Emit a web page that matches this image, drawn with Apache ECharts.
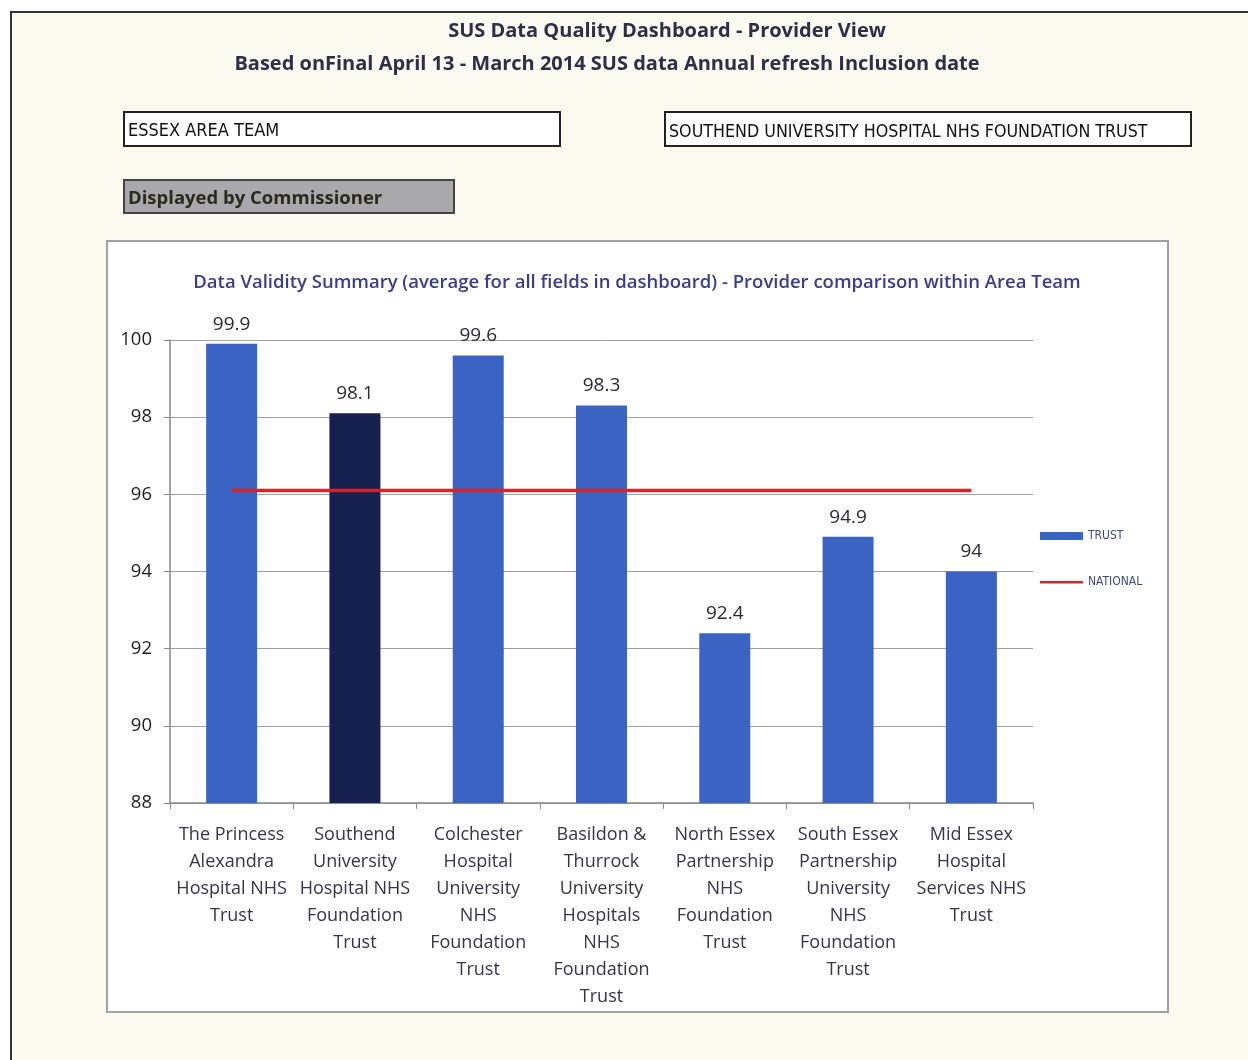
<!DOCTYPE html>
<html>
<head>
<meta charset="utf-8">
<script src="https://cdn.jsdelivr.net/npm/echarts@6/dist/echarts.min.js"></script>
<style>
    html, body { margin: 0; padding: 0; background: #ffffff; }
    #main { width: 1248px; height: 1060px; }
</style>
</head>
<body>
<div id="main"></div>
<script>
let categories = [
    "The Princess\nAlexandra\nHospital NHS\nTrust",
    "Southend\nUniversity\nHospital NHS\nFoundation\nTrust",
    "Colchester\nHospital\nUniversity\nNHS\nFoundation\nTrust",
    "Basildon &\nThurrock\nUniversity\nHospitals\nNHS\nFoundation\nTrust",
    "North Essex\nPartnership\nNHS\nFoundation\nTrust",
    "South Essex\nPartnership\nUniversity\nNHS\nFoundation\nTrust",
    "Mid Essex\nHospital\nServices NHS\nTrust"
];
let trust = [99.9, 98.1, 99.6, 98.3, 92.4, 94.9, 94.0];
let national = [96.1, 96.1, 96.1, 96.1, 96.1, 96.1, 96.1];
let selectedIndex = 1;
let yTicks = [88, 90, 92, 94, 96, 98, 100];

let labelColor = "#3a3346";
let sans = "'Open Sans', 'Noto Sans', sans-serif";
let narrow = "'Liberation Sans Narrow', 'DejaVu Sans Condensed', 'Liberation Sans', sans-serif";

let chart = echarts.init(document.getElementById("main"));
let option = {
    backgroundColor: "#ffffff",
    animation: false,
    graphic: [
        // outer dashboard frame
        {
            type: "rect",
            shape: {x: 11, y: 12, width: 1250, height: 1060},
            style: {fill: "#fafaf1", stroke: "#333333", lineWidth: 2},
            z: -10
        },
        {
            type: "text",
            style: {
                x: 667, y: 31, text: "SUS Data Quality Dashboard - Provider View",
                font: "bold 20px " + sans, fill: "#2e2e48", align: "center", verticalAlign: "middle"
            }
        },
        {
            type: "text",
            style: {
                x: 607, y: 64, text: "Based onFinal April 13 - March 2014 SUS data Annual refresh Inclusion date",
                font: "bold 20px " + sans, fill: "#2e2e48", align: "center", verticalAlign: "middle"
            }
        },
        {
            type: "rect",
            shape: {x: 124, y: 112, width: 436, height: 34},
            style: {fill: "#ffffff", stroke: "#222222", lineWidth: 2}
        },
        {
            type: "text",
            style: {
                x: 128, y: 131, text: "ESSEX AREA TEAM",
                font: "18px " + narrow, fill: "#111111", verticalAlign: "middle"
            }
        },
        {
            type: "rect",
            shape: {x: 665, y: 112, width: 526, height: 34},
            style: {fill: "#ffffff", stroke: "#222222", lineWidth: 2}
        },
        {
            type: "text",
            style: {
                x: 669, y: 132, text: "SOUTHEND UNIVERSITY HOSPITAL NHS FOUNDATION TRUST",
                font: "17.7px " + narrow, fill: "#111111", verticalAlign: "middle"
            }
        },
        {
            type: "rect",
            shape: {x: 124, y: 180, width: 330, height: 33},
            style: {fill: "#a9a9ab", stroke: "#444444", lineWidth: 2}
        },
        {
            type: "text",
            style: {
                x: 128, y: 199, text: "Displayed by Commissioner",
                font: "bold 18.5px " + sans, fill: "#2b2a1e", verticalAlign: "middle"
            }
        },
        // chart panel
        {
            type: "rect",
            shape: {x: 107, y: 241, width: 1061, height: 771},
            style: {fill: "#ffffff", stroke: "#a0a0a0", lineWidth: 2},
            z: -5
        }
    ],
    title: {
        text: "Data Validity Summary (average for all fields in dashboard) - Provider comparison within Area Team",
        left: 632,
        top: 268,
        textAlign: "center",
        textStyle: {
            fontFamily: sans,
            fontSize: 18.5,
            fontWeight: 600,
            color: "#3b3d8c"
        }
    },
    legend: {
        orient: "vertical",
        left: 1035,
        top: 525,
        itemWidth: 43,
        itemHeight: 8,
        itemGap: 34,
        textStyle: {
            fontFamily: narrow,
            fontSize: 12,
            color: "#3c4a8a"
        },
        data: [
            {name: "TRUST", icon: "rect"},
            {name: "NATIONAL", icon: "path://M0,0 M0,3 L43,3 L43,5.5 L0,5.5 Z M43,8"}
        ]
    },
    grid: {
        left: 170,
        right: 215,
        top: 340,
        bottom: 257
    },
    xAxis: {
        type: "category",
        data: categories,
        axisLine: {lineStyle: {color: "#888888", width: 1.5}},
        axisTick: {show: true, length: 6, lineStyle: {color: "#888888"}},
        axisLabel: {
            interval: 0,
            margin: 18,
            fontFamily: sans,
            fontSize: 18,
            lineHeight: 27,
            color: labelColor
        }
    },
    yAxis: {
        type: "value",
        min: yTicks[0],
        max: yTicks[yTicks.length - 1],
        interval: 2,
        axisLine: {show: true, lineStyle: {color: "#888888", width: 1.5}},
        axisTick: {show: true, length: 6, lineStyle: {color: "#888888"}},
        splitLine: {lineStyle: {color: "#a0a0a0", width: 1}},
        axisLabel: {
            margin: 18,
            fontFamily: sans,
            fontSize: 18.5,
            color: "#1e1e1e"
        }
    },
    series: [
        {
            name: "TRUST",
            type: "bar",
            barWidth: 51,
            itemStyle: {color: "#3b63c4"},
            data: trust.map((v, i) => i === selectedIndex
                ? {value: v, itemStyle: {color: "#172150"}}
                : v),
            label: {
                show: true,
                position: "top",
                distance: 10,
                fontFamily: sans,
                fontSize: 19,
                color: "#2a2a35",
                formatter: p => String(p.value)
            }
        },
        {
            name: "NATIONAL",
            type: "line",
            data: national,
            symbol: "none",
            z: 5,
            lineStyle: {color: "#d0262c", width: 3.5},
            itemStyle: {color: "#d0262c"}
        }
    ]
};
chart.setOption(option);
</script>
</body>
</html>
